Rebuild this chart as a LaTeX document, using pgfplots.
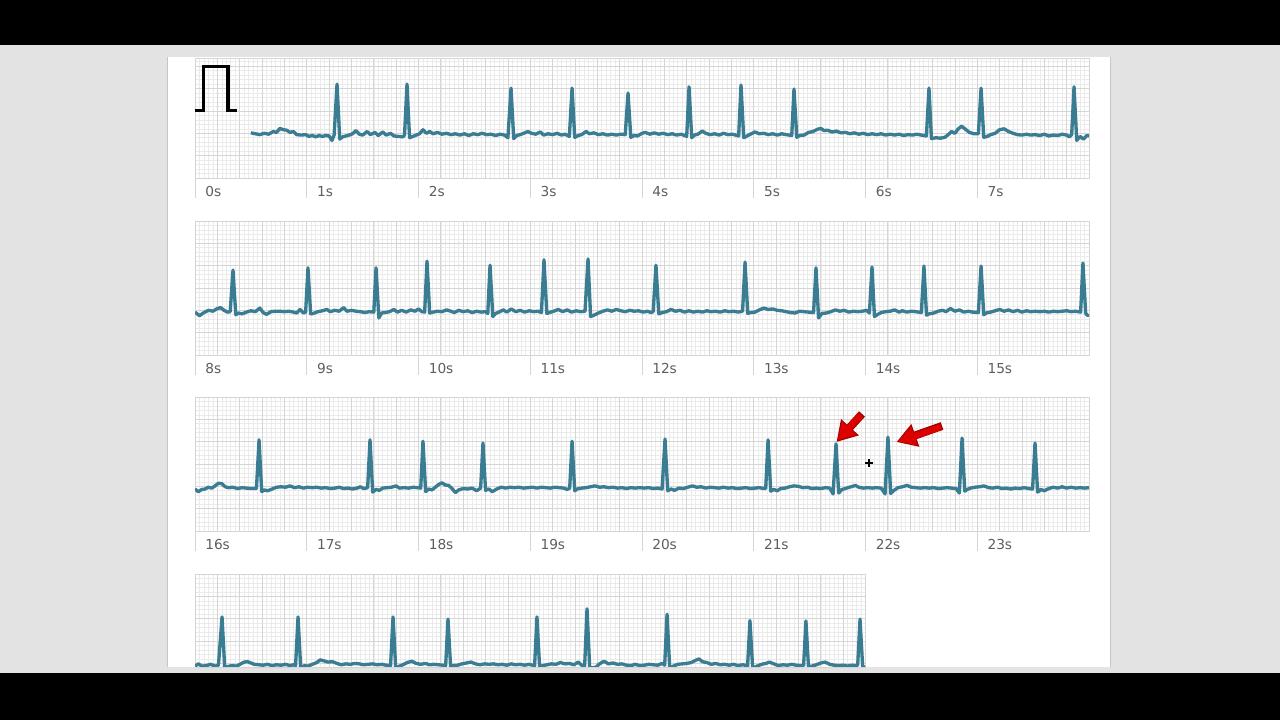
\documentclass[border=0pt]{standalone}
\usepackage{fontspec}
\setmainfont{DejaVu Sans}
\usepackage{pgfplots}
\pgfplotsset{compat=1.18}
\usetikzlibrary{arrows.meta}

\definecolor{trace}{HTML}{3A7D93}
\definecolor{gridmaj}{HTML}{D5D5D5}
\definecolor{gridmin}{HTML}{EBEBEB}
\definecolor{labgray}{HTML}{5E5E5E}
\definecolor{bggray}{HTML}{E3E3E3}
\definecolor{pageedge}{HTML}{C6C6C6}
\definecolor{arrowred}{HTML}{DD0000}
\definecolor{arrowdark}{HTML}{A00000}

% one strip of ECG paper: 1 small square = 0.04 s x 1 mm
\pgfplotsset{
  ecg/.style={
    scale only axis,
    anchor=south west,
    axis line style={draw=gridmaj, line width=0.6pt},
    grid=both,
    major grid style={draw=gridmaj, line width=0.6pt},
    minor grid style={draw=gridmin, line width=0.45pt},
    ytick={0,5,...,30}, minor ytick={0,1,...,30}, yticklabels={},
    major tick length=0pt, minor tick length=0pt,
    tick style={draw=none},
    extra x tick labels={},
    extra x tick style={grid=major},
    xticklabel style={anchor=west, inner sep=0pt, xshift=7.5pt, yshift=-10.5pt,
      font=\fontsize{10.3}{12}\selectfont, text=labgray},
  },
  ecgline/.style={trace, line width=2.5pt, line join=round},
}

\begin{document}
\begin{tikzpicture}
\begin{scope}[x=0.75pt, y=0.75pt]
  \fill[black] (0,0) rectangle (1280,720);
  \fill[bggray] (0,47) rectangle (1280,675);
  \fill[white] (168,53) rectangle (1110,663);
  \draw[pageedge, line width=1.2pt] (167.5,53) -- (167.5,663);
  \draw[pageedge, line width=1.2pt] (1110.5,53) -- (1110.5,663);
\end{scope}

% row 1 : 0-8 s
\begin{axis}[ecg, at={(146.25pt,406.5pt)}, width=670.5pt, height=90pt,
  xmin=0, xmax=8, ymin=0, ymax=26.85,
  xtick={0,...,7}, xticklabels={0s,1s,2s,3s,4s,5s,6s,7s},
  extra x ticks={0.2,0.4,...,7.8}, minor xtick={0,0.04,...,8}]
\addplot[black, line width=2.3pt] coordinates {(0,15.2)(0.072,15.2)(0.072,25)(0.295,25)(0.295,15.2)(0.376,15.2)};
\addplot[ecgline] coordinates {
(0.50,10.1)(0.54,9.9)(0.58,9.7)(0.62,10.0)(0.66,9.8)(0.70,10.4)(0.73,10.2)(0.76,11.1)(0.79,10.8)(0.82,10.7)
(0.85,10.2)(0.88,10.4)(0.91,9.7)(0.95,9.6)(0.99,9.7)(1.02,9.3)(1.05,9.5)(1.08,9.2)(1.11,9.5)(1.14,9.3)
(1.17,9.5)(1.20,9.4)(1.225,8.4)(1.245,9.6)(1.271,21.0)(1.295,8.7)(1.32,9.2)(1.35,9.4)(1.38,9.6)(1.41,9.9)
(1.44,10.6)(1.47,9.8)(1.50,9.6)(1.54,10.4)(1.57,9.7)(1.61,10.2)(1.64,9.5)(1.68,10.3)(1.71,9.6)(1.75,10.0)
(1.78,9.4)(1.82,9.3)(1.86,9.2)(1.875,9.6)(1.897,21.0)(1.92,9.0)(1.95,9.3)(1.98,9.6)(2.01,9.9)(2.04,10.8)
(2.07,10.0)(2.10,10.4)(2.13,9.9)(2.17,10.2)(2.21,9.8)(2.25,10.0)(2.29,9.7)(2.33,9.9)(2.37,9.6)(2.41,9.9)
(2.45,9.5)(2.49,9.9)(2.53,9.7)(2.57,10.0)(2.61,9.7)(2.65,9.8)(2.69,9.5)(2.73,9.8)(2.77,9.6)(2.80,9.0)
(2.828,20.1)(2.852,8.8)(2.88,9.5)(2.91,9.7)(2.94,10.0)(2.98,10.4)(3.01,10.0)(3.05,9.8)(3.09,10.3)(3.12,9.6)
(3.16,9.9)(3.20,9.7)(3.24,10.0)(3.28,9.6)(3.31,9.8)(3.35,9.3)(3.374,20.1)(3.398,9.1)(3.43,9.5)(3.46,9.7)
(3.50,10.4)(3.53,9.9)(3.57,10.1)(3.61,9.7)(3.65,9.9)(3.69,9.6)(3.73,9.8)(3.77,9.6)(3.81,9.8)(3.85,9.7)
(3.875,19.0)(3.90,9.1)(3.93,9.5)(3.96,9.4)(4.00,10.0)(4.03,10.2)(4.07,9.8)(4.11,10.1)(4.15,9.8)(4.19,10.0)
(4.23,9.7)(4.27,9.9)(4.31,9.6)(4.35,9.8)(4.40,9.3)(4.421,20.4)(4.445,9.0)(4.47,9.6)(4.50,9.8)(4.54,10.5)
(4.57,10.0)(4.61,9.7)(4.65,9.9)(4.69,9.6)(4.73,10.0)(4.77,9.7)(4.81,9.8)(4.865,9.4)(4.886,20.8)(4.91,9.0)
(4.94,9.4)(4.97,9.8)(5.01,10.3)(5.05,9.9)(5.09,10.0)(5.13,9.7)(5.17,9.9)(5.21,9.6)(5.25,9.9)(5.29,9.7)
(5.34,9.5)(5.36,19.9)(5.385,9.1)(5.41,9.5)(5.45,9.6)(5.49,10.2)(5.53,10.4)(5.57,10.9)(5.60,11.1)(5.63,10.6)
(5.66,10.7)(5.70,10.3)(5.74,10.5)(5.78,10.1)(5.82,10.2)(5.86,9.9)(5.90,10.1)(5.94,9.8)(5.98,10.0)(6.02,9.7)
(6.06,9.9)(6.10,9.7)(6.14,9.9)(6.18,9.6)(6.22,9.8)(6.26,9.6)(6.30,9.8)(6.34,9.5)(6.38,9.7)(6.42,9.6)
(6.46,9.8)(6.50,9.6)(6.545,9.4)(6.568,20.1)(6.59,8.8)(6.63,9.0)(6.67,8.9)(6.71,9.1)(6.74,9.7)(6.77,10.4)
(6.80,10.0)(6.83,11.0)(6.86,11.6)(6.89,11.0)(6.93,10.2)(6.97,9.9)(7.01,9.9)(7.034,20.1)(7.058,9.1)(7.09,9.3)
(7.12,9.7)(7.16,10.0)(7.20,10.8)(7.24,11.0)(7.28,10.4)(7.32,10.0)(7.36,9.7)(7.40,9.6)(7.44,9.8)(7.48,9.6)
(7.52,9.7)(7.56,9.5)(7.60,9.8)(7.64,9.4)(7.68,9.6)(7.72,9.5)(7.76,9.8)(7.80,9.6)(7.825,9.2)(7.845,9.7)
(7.866,20.4)(7.89,8.4)(7.92,9.3)(7.95,8.7)(7.98,9.5)(8.00,9.4)};
\end{axis}

% row 2 : 8-16 s
\begin{axis}[ecg, at={(146.25pt,273.75pt)}, width=670.5pt, height=100.5pt,
  xmin=8, xmax=16, ymin=0, ymax=30,
  xtick={8,...,15}, xticklabels={8s,9s,10s,11s,12s,13s,14s,15s},
  extra x ticks={8.2,8.4,...,15.8}, minor xtick={8,8.04,...,16}]
\addplot[ecgline] coordinates {
(8.00,9.6)(8.04,8.8)(8.08,9.5)(8.12,10.0)(8.16,9.8)(8.20,10.4)(8.23,10.6)(8.26,10.0)(8.29,9.6)(8.315,9.7)
(8.340,19.0)(8.365,9.0)(8.39,9.4)(8.42,9.2)(8.46,9.6)(8.50,9.9)(8.54,9.7)(8.58,10.5)(8.61,9.5)(8.64,9.1)
(8.68,9.7)(8.72,9.8)(8.76,9.8)(8.80,9.7)(8.84,9.8)(8.88,9.6)(8.91,9.4)(8.94,10.2)(8.97,9.4)(8.99,9.6)
(9.011,19.5)(9.035,9.2)(9.06,9.3)(9.10,9.7)(9.14,9.9)(9.18,10.2)(9.21,9.7)(9.25,10.0)(9.29,9.8)(9.33,10.6)
(9.36,9.8)(9.40,10.0)(9.44,9.8)(9.48,9.7)(9.52,9.5)(9.56,9.7)(9.60,9.6)(9.620,19.5)(9.645,8.3)(9.67,9.4)
(9.70,9.5)(9.74,9.7)(9.78,10.2)(9.81,9.6)(9.85,10.0)(9.89,9.6)(9.93,10.1)(9.97,9.8)(10.00,10.3)(10.03,9.7)
(10.055,9.6)(10.076,21.0)(10.10,9.4)(10.13,9.6)(10.17,9.8)(10.21,9.7)(10.25,10.1)(10.29,9.8)(10.32,9.5)(10.36,10.0)
(10.40,9.7)(10.44,9.9)(10.48,9.5)(10.52,9.8)(10.56,9.6)(10.60,9.7)(10.62,9.3)(10.640,20.1)(10.665,8.6)(10.69,9.3)
(10.72,9.6)(10.76,10.1)(10.79,9.6)(10.83,10.3)(10.87,9.7)(10.91,10.0)(10.95,9.6)(10.99,9.9)(11.03,9.7)(11.07,9.8)
(11.10,9.5)(11.123,21.3)(11.148,9.3)(11.17,9.5)(11.21,9.8)(11.25,10.2)(11.29,9.7)(11.33,10.1)(11.37,9.6)(11.41,9.9)
(11.45,9.7)(11.49,9.8)(11.517,21.5)(11.54,8.6)(11.57,8.9)(11.61,9.4)(11.65,9.8)(11.69,10.1)(11.73,9.8)(11.77,10.2)
(11.81,9.9)(11.85,9.7)(11.89,10.0)(11.93,9.8)(11.97,9.9)(12.01,9.6)(12.05,9.8)(12.08,9.5)(12.10,9.7)(12.125,20.1)
(12.15,9.2)(12.18,9.5)(12.22,9.7)(12.26,10.2)(12.30,9.8)(12.34,10.0)(12.38,9.6)(12.42,9.9)(12.46,9.6)(12.50,9.8)
(12.54,9.6)(12.58,9.9)(12.62,9.7)(12.66,9.8)(12.70,9.6)(12.74,9.9)(12.78,9.7)(12.82,9.8)(12.86,9.6)(12.90,9.8)
(12.922,20.8)(12.946,9.3)(12.97,9.5)(13.01,9.6)(13.05,10.1)(13.09,10.5)(13.13,10.2)(13.17,10.3)(13.21,10.0)(13.25,9.9)
(13.29,9.7)(13.33,9.5)(13.37,9.4)(13.41,9.8)(13.45,9.7)(13.49,9.6)(13.535,9.5)(13.557,19.5)(13.58,8.3)(13.61,9.3)
(13.65,9.4)(13.69,9.7)(13.73,10.1)(13.77,9.8)(13.81,10.0)(13.85,9.6)(13.89,9.8)(13.93,9.7)(13.97,9.8)(14.01,10.0)
(14.035,9.4)(14.058,19.7)(14.08,8.6)(14.11,9.1)(14.14,9.5)(14.18,9.7)(14.22,9.8)(14.26,10.1)(14.30,9.6)(14.33,9.9)
(14.37,9.6)(14.41,9.8)(14.45,9.7)(14.50,9.5)(14.523,19.9)(14.546,8.9)(14.57,9.2)(14.61,9.4)(14.65,9.8)(14.69,10.0)
(14.72,9.7)(14.76,10.4)(14.80,9.8)(14.84,10.1)(14.88,9.6)(14.92,9.8)(14.96,9.6)(15.01,9.5)(15.034,19.9)(15.058,9.0)
(15.08,9.4)(15.12,9.6)(15.16,9.9)(15.20,10.2)(15.24,9.8)(15.28,10.1)(15.32,9.7)(15.36,10.0)(15.40,9.6)(15.44,9.9)
(15.48,9.7)(15.52,9.8)(15.56,9.7)(15.60,9.8)(15.64,9.6)(15.68,9.8)(15.72,9.7)(15.76,9.8)(15.80,9.9)(15.84,9.7)
(15.88,9.8)(15.925,9.6)(15.946,20.6)(15.97,9.3)(15.99,8.8)(16.00,9.0)};
\end{axis}

% row 3 : 16-24 s
\begin{axis}[ecg, at={(146.25pt,141.75pt)}, width=670.5pt, height=100.5pt,
  xmin=16, xmax=24, ymin=0, ymax=30,
  xtick={16,...,23}, xticklabels={16s,17s,18s,19s,20s,21s,22s,23s},
  extra x ticks={16.2,16.4,...,23.8}, minor xtick={16,16.04,...,24}]
\addplot[ecgline] coordinates {
(16.00,9.4)(16.03,8.8)(16.06,9.3)(16.09,9.4)(16.12,9.8)(16.15,9.6)(16.18,10.1)(16.21,10.7)(16.24,10.6)(16.27,9.9)
(16.30,9.7)(16.34,9.8)(16.38,9.5)(16.42,9.7)(16.46,9.6)(16.50,9.5)(16.55,9.5)(16.573,20.4)(16.597,8.8)(16.62,9.2)
(16.65,9.0)(16.69,9.4)(16.73,9.8)(16.77,9.9)(16.81,9.8)(16.85,10.1)(16.89,9.7)(16.93,9.9)(16.97,9.6)(17.01,9.8)
(17.05,9.7)(17.09,9.8)(17.13,9.6)(17.17,9.7)(17.21,9.5)(17.25,9.6)(17.29,9.8)(17.33,9.5)(17.37,9.6)(17.41,9.4)
(17.45,9.6)(17.48,9.9)(17.51,9.5)(17.545,9.7)(17.566,20.4)(17.59,8.7)(17.62,9.3)(17.65,9.1)(17.68,9.6)(17.72,9.7)
(17.76,9.8)(17.80,10.1)(17.83,9.6)(17.87,9.7)(17.91,9.6)(17.95,9.8)(17.99,9.7)(18.02,9.6)(18.040,20.1)(18.064,8.8)
(18.09,9.4)(18.12,9.2)(18.15,9.8)(18.18,10.4)(18.21,10.8)(18.24,10.3)(18.27,10.2)(18.30,9.5)(18.33,8.6)(18.36,9.2)
(18.40,9.5)(18.44,9.4)(18.48,9.6)(18.52,9.0)(18.556,9.6)(18.577,19.7)(18.60,9.1)(18.63,9.4)(18.66,8.8)(18.70,9.4)
(18.74,9.8)(18.78,9.6)(18.82,9.8)(18.86,9.7)(18.90,9.8)(18.94,9.6)(18.98,9.7)(19.02,9.8)(19.06,9.6)(19.10,9.8)
(19.14,9.7)(19.18,9.6)(19.22,9.8)(19.26,9.7)(19.30,9.6)(19.33,9.3)(19.353,9.6)(19.374,20.1)(19.398,9.0)(19.42,9.4)
(19.46,9.6)(19.50,9.7)(19.54,9.9)(19.58,10.1)(19.62,9.8)(19.66,9.9)(19.70,9.7)(19.74,9.8)(19.78,9.6)(19.82,9.7)
(19.86,9.5)(19.90,9.7)(19.94,9.6)(19.98,9.7)(20.02,9.6)(20.06,9.7)(20.10,9.5)(20.14,9.6)(20.18,9.4)(20.206,20.6)
(20.23,9.0)(20.26,9.4)(20.29,9.1)(20.33,9.6)(20.37,9.5)(20.41,9.8)(20.45,10.1)(20.49,9.8)(20.53,9.9)(20.57,9.6)
(20.61,9.8)(20.65,9.7)(20.69,9.6)(20.73,9.8)(20.77,9.6)(20.81,9.7)(20.85,9.5)(20.89,9.6)(20.93,9.7)(20.97,9.5)
(21.01,9.6)(21.05,9.7)(21.09,9.5)(21.107,9.5)(21.128,20.4)(21.152,8.9)(21.18,9.3)(21.21,9.0)(21.24,9.5)(21.28,9.6)
(21.32,9.9)(21.36,10.1)(21.40,10.0)(21.44,9.7)(21.48,9.8)(21.52,9.5)(21.56,9.6)(21.60,9.5)(21.64,9.7)(21.68,9.6)
(21.71,8.3)(21.736,19.5)(21.76,8.5)(21.79,9.3)(21.83,9.6)(21.87,9.9)(21.91,10.2)(21.94,9.8)(21.98,9.6)(22.02,9.7)
(22.06,9.6)(22.10,9.7)(22.14,9.6)(22.175,8.3)(22.201,21.0)(22.225,8.4)(22.25,9.0)(22.29,9.7)(22.33,9.9)(22.37,10.2)
(22.41,9.8)(22.45,9.7)(22.49,9.6)(22.53,9.7)(22.57,9.6)(22.61,9.7)(22.65,9.5)(22.69,9.6)(22.73,9.7)(22.77,9.6)
(22.81,9.5)(22.84,8.5)(22.864,20.8)(22.888,8.9)(22.91,9.3)(22.94,9.6)(22.98,9.8)(23.02,9.9)(23.06,10.1)(23.10,9.7)
(23.14,9.6)(23.18,9.8)(23.22,9.5)(23.26,9.6)(23.30,9.4)(23.34,9.6)(23.38,9.5)(23.42,9.7)(23.46,9.5)(23.495,9.4)
(23.517,19.7)(23.54,8.7)(23.57,9.3)(23.60,9.0)(23.64,9.5)(23.68,9.8)(23.72,9.6)(23.76,9.9)(23.80,9.6)(23.84,9.8)
(23.88,9.6)(23.92,9.7)(23.96,9.6)(24.00,9.7)};
\end{axis}

% row 4 : 24-30 s, cut by the bottom of the page
\begin{axis}[ecg, at={(146.25pt,39.75pt)}, width=502.875pt, height=69.75pt,
  xmin=24, xmax=30, ymin=9.2, ymax=30,
  xtick={24,...,30}, xticklabels={},
  extra x ticks={24.2,24.4,...,29.8}, minor xtick={24,24.04,...,30}]
\addplot[ecgline] coordinates {
(24.00,9.4)(24.03,9.9)(24.06,9.4)(24.10,9.5)(24.14,9.8)(24.18,9.4)(24.21,9.6)(24.242,20.4)(24.266,9.0)(24.29,9.3)
(24.33,9.5)(24.37,9.4)(24.41,9.9)(24.44,10.3)(24.47,10.4)(24.50,10.1)(24.53,9.8)(24.57,9.7)(24.61,9.6)(24.65,9.8)
(24.69,9.5)(24.73,9.7)(24.77,9.6)(24.81,9.8)(24.85,9.5)(24.88,9.7)(24.90,9.5)(24.922,20.4)(24.946,9.0)(24.98,9.5)
(25.01,9.4)(25.05,9.8)(25.09,10.2)(25.12,10.8)(25.15,10.6)(25.19,10.3)(25.23,10.4)(25.27,10.0)(25.31,9.7)(25.35,9.9)
(25.39,9.8)(25.43,10.0)(25.47,9.9)(25.51,9.7)(25.55,9.8)(25.59,9.9)(25.63,9.7)(25.67,9.8)(25.71,9.6)(25.75,9.5)
(25.772,20.4)(25.796,9.0)(25.82,9.3)(25.86,9.7)(25.90,10.2)(25.94,10.5)(25.98,10.0)(26.02,9.8)(26.06,10.0)(26.10,9.7)
(26.14,9.8)(26.18,9.7)(26.22,9.6)(26.243,9.5)(26.264,19.9)(26.288,9.0)(26.31,9.5)(26.35,9.6)(26.39,9.9)(26.43,10.1)
(26.47,10.3)(26.51,9.9)(26.55,9.7)(26.59,9.9)(26.63,9.8)(26.67,9.9)(26.71,9.7)(26.75,9.8)(26.79,9.6)(26.83,9.9)
(26.87,9.7)(26.91,9.8)(26.95,9.6)(26.99,9.8)(27.02,9.6)(27.039,9.5)(27.060,20.4)(27.084,9.0)(27.11,9.5)(27.15,9.7)
(27.19,9.9)(27.23,9.8)(27.27,10.2)(27.31,9.9)(27.35,10.0)(27.39,9.7)(27.43,10.3)(27.46,9.6)(27.487,9.5)(27.508,22.2)
(27.532,9.0)(27.56,9.0)(27.59,9.2)(27.62,9.9)(27.66,10.5)(27.70,9.9)(27.74,10.1)(27.78,9.8)(27.82,9.9)(27.86,9.6)
(27.90,9.5)(27.94,9.8)(27.98,9.5)(28.02,9.6)(28.06,9.8)(28.10,9.7)(28.14,9.6)(28.18,10.0)(28.203,9.6)(28.224,21.0)
(28.248,9.0)(28.28,9.4)(28.32,9.8)(28.36,9.9)(28.40,10.0)(28.44,10.2)(28.48,10.7)(28.51,11.0)(28.54,10.4)(28.58,10.2)
(28.62,9.8)(28.66,10.0)(28.70,9.7)(28.74,9.8)(28.78,9.6)(28.82,9.8)(28.86,9.5)(28.90,9.7)(28.945,9.5)(28.966,19.6)
(28.99,9.0)(29.03,9.4)(29.07,9.8)(29.11,10.0)(29.14,10.3)(29.18,9.9)(29.22,9.5)(29.26,9.7)(29.30,9.6)(29.34,9.8)
(29.38,9.6)(29.42,9.5)(29.446,9.5)(29.467,19.5)(29.49,9.1)(29.52,9.4)(29.56,9.7)(29.60,10.1)(29.64,10.3)(29.68,9.8)
(29.72,9.6)(29.76,9.5)(29.80,9.6)(29.84,9.4)(29.88,9.6)(29.91,9.5)(29.93,9.6)(29.951,19.9)(29.975,9.1)(30.00,9.2)};
\end{axis}

\begin{scope}[x=0.75pt, y=0.75pt]
  % second separators under the strips
  \foreach \k in {0,...,7} {
    \draw[gridmaj, line width=0.75pt] ({195+111.75*\k},542) -- ++(0,-20);
    \draw[gridmaj, line width=0.75pt] ({195+111.75*\k},365) -- ++(0,-20);
    \draw[gridmaj, line width=0.75pt] ({195+111.75*\k},189) -- ++(0,-20);
  }
  % red arrows pointing at the two beats
  \draw[arrowdark, line width=6pt, -{Triangle[length=15pt,width=17pt]}] (862,306) -- (836.5,278);
  \draw[arrowred, line width=4.6pt, -{Triangle[length=13pt,width=14pt]}] (861,305) -- (837.5,279.5);
  \draw[arrowdark, line width=6pt, -{Triangle[length=15pt,width=17pt]}] (942,294) -- (896.5,278);
  \draw[arrowred, line width=4.6pt, -{Triangle[length=13pt,width=14pt]}] (941,293) -- (898,278.5);
  % mouse cursor
  \draw[black, line width=0.8pt] (865,257) -- (873,257) (869,253) -- (869,261);
\end{scope}
\end{tikzpicture}
\end{document}
